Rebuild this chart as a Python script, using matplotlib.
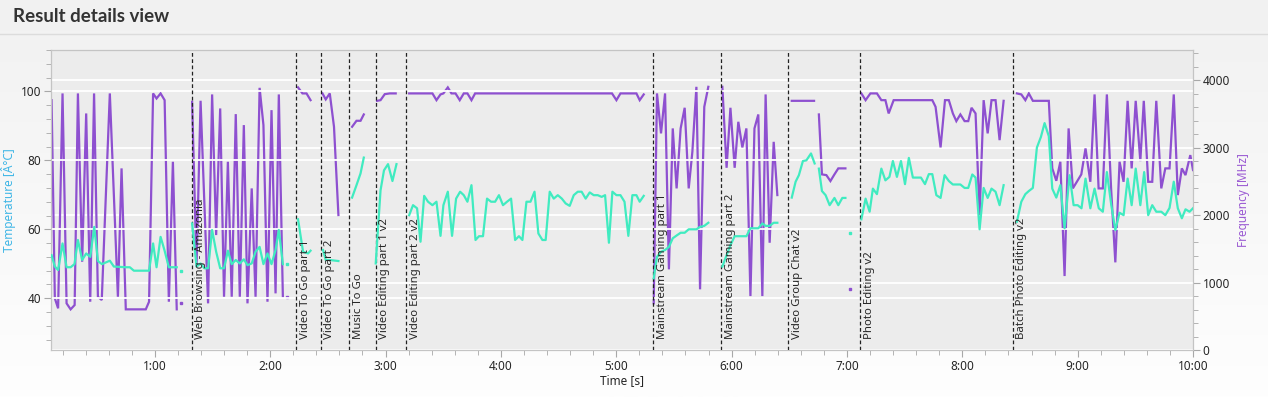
import matplotlib
matplotlib.use('Agg')
import matplotlib.pyplot as plt
import matplotlib.ticker as mticker
import matplotlib.transforms as mtransforms
from matplotlib.lines import Line2D
import numpy as np

nan = np.nan

# ---- section markers (seconds) ----
section_start = [79.1, 133.6, 146.2, 161.2, 174.8, 190.9, 319.2, 354.6, 389.5, 426.9, 506.3]
section_name = ['Web Browsing - Amazonia', 'Video To Go part 1', 'Video To Go part 2',
                'Music To Go', 'Video Editing part 1 v2', 'Video Editing part 2 v2',
                'Mainstream Gaming part 1', 'Mainstream Gaming part 2',
                'Video Group Chat v2', 'Photo Editing v2', 'Batch Photo Editing v2']

# ---- temperature series (°C), nan = break ----
temp_time = [6.3, 8.0, 9.7, 12.0, 14.1, 16.2, 18.2, 20.0, 22.2, 24.3, 26.4, 28.5, 30.4, 32.5,
             36.6, 38.7, 44.9, 47.0, 49.1, 57.0, 59.1, 60.9, 63.0, 65.0, 67.3, 69.4, 71.4, nan,
             79.4, 81.7, 83.8, 85.8, 87.7, 89.8, 91.9, 94.0, 96.0, 98.0, 100.0, 102.1, 104.2,
             106.3, 108.2, 110.4, 112.4, 114.5, 116.5, 118.6, 120.7, 122.8, 124.5, 126.6, nan,
             134.5, 137.1, 139.7, 141.0, nan,
             147.5, 148.9, 151.0, 155.5, nan,
             162.6, 164.9, 167.0, 168.7, nan,
             174.9, 177.4, 179.2, 181.3, 183.6, 185.7, nan,
             192.3, 194.3, 196.4, 198.2, 200.1, 202.1, 204.4, 206.5, 208.6, 210.1, 212.4, 214.6,
             216.7, 218.8, 220.7, 222.6, 224.7, 226.8, 228.6, 230.7, 232.8, 234.9, 237.0, 239.0,
             241.1, 243.2, 245.3, 247.4, 249.4, 251.2, 253.3, 255.4, 257.5, 259.5, 261.6, 263.3,
             265.4, 267.5, 269.6, 271.7, 273.7, 275.8, 277.9, 280.0, 282.0, 284.1, 286.2, 288.3,
             290.4, 292.4, 294.2, 296.2, 298.0, 300.1, 302.2, 304.3, 306.3, 308.4, 310.5, 312.2,
             314.3, nan,
             319.5, 321.2, 323.3, 325.4, 327.4, 329.4, 331.4, 333.5, 335.6, 337.7, 339.6, 341.7,
             343.6, 345.8, 347.9, nan,
             355.2, 357.4, 359.4, 361.6, 363.5, 365.6, 367.7, 369.8, 371.9, 373.9, 376.0, 377.7,
             379.8, 381.9, 383.8, nan,
             391.3, 393.3, 395.0, 397.1, 398.9, 401.3, 403.2, nan,
             405.4, 407.0, 408.9, 411.0, 413.5, 415.5, 417.6, 419.2, nan,
             427.5, 429.7, 431.8, 433.5, 435.6, 437.9, 440.0, 442.1, 443.9, 446.0, 448.1, 450.2,
             452.2, 454.3, 456.4, 458.5, 460.6, 462.6, 464.4, 466.5, 468.7, 470.8, 473.0, 475.1,
             479.0, 481.2, 483.1, 485.2, 486.9, 489.0, 491.1, 493.2, 495.2, 497.3, 499.4, 501.5, nan,
             508.4, 510.7, 512.8, 514.6, 516.7, 518.8, 520.9, 522.8, 525.0, 526.8, 528.9, 531.0,
             533.2, 535.8, 537.9, 540.0, 542.0, 544.1, 546.6, 548.8, 551.0, 553.1, 555.2, 557.5,
             559.6, 561.8, 563.9, 566.0, 568.1, 570.2, 572.6, 574.6, 576.7, 578.8, 580.9, 583.5,
             585.6, 587.8, 590.0, 592.1, 594.2, 596.1, 598.2, 600.0]
temp_c = [52.5, 49.2, 48.2, 55.9, 49.0, 49.0, 49.9, 56.9, 51.1, 53.0, 52.0, 60.7, 50.8, 49.9,
          50.9, 49.2, 49.0, 49.0, 48.0, 48.0, 55.9, 49.0, 57.8, 54.0, 49.0, 49.0, 49.0, nan,
          61.7, 49.2, 50.1, 48.7, 48.7, 59.8, 53.5, 48.7, 48.7, 53.8, 49.9, 51.1, 50.1,
          51.3, 49.6, 50.1, 53.5, 54.9, 49.9, 53.0, 49.9, 54.0, 59.8, 49.9, nan,
          62.9, 53.5, 53.0, 53.8, nan,
          54.0, 51.1, 51.1, 50.8, nan,
          69.2, 72.8, 76.2, 80.8, nan,
          50.1, 71.3, 77.1, 78.9, 74.0, 78.9, nan,
          64.1, 67.0, 66.1, 56.4, 69.7, 68.0, 67.0, 68.0, 58.1, 67.0, 70.9, 58.1,
          68.9, 70.9, 69.9, 68.0, 72.8, 56.9, 58.0, 58.0, 68.9, 68.0, 68.0, 69.9,
          67.0, 68.0, 68.9, 56.9, 58.0, 56.9, 68.0, 68.0, 70.9, 58.8, 56.9, 56.9,
          70.9, 68.9, 69.9, 68.9, 67.5, 66.8, 69.9, 70.9, 70.9, 68.9, 70.7, 69.9,
          69.9, 69.4, 69.9, 56.1, 70.9, 69.9, 69.9, 68.0, 58.1, 69.9, 69.9, 68.0,
          69.7, nan,
          45.8, 52.0, 53.5, 54.0, 54.9, 57.4, 58.2, 59.0, 59.0, 60.0, 60.0, 60.0,
          60.7, 61.0, 61.9, nan,
          49.2, 52.5, 55.4, 58.0, 58.0, 58.0, 58.0, 60.3, 60.3, 60.3, 61.7, 61.0,
          61.0, 61.9, 61.9, nan,
          69.2, 73.8, 75.7, 79.8, 80.0, 82.0, 79.1, nan,
          77.6, 71.1, 69.9, 67.0, 69.1, 67.0, 69.1, 69.1, nan,
          62.9, 68.9, 65.1, 71.8, 70.2, 77.6, 74.2, 75.2, 79.8, 75.2, 79.8, 73.1,
          80.7, 75.0, 75.0, 75.0, 73.1, 76.0, 76.0, 69.9, 69.1, 75.7, 74.0, 73.0,
          73.0, 72.0, 72.0, 75.9, 75.0, 60.0, 72.0, 69.1, 71.8, 70.9, 67.0, 72.8, nan,
          62.2, 68.0, 70.2, 71.1, 72.0, 83.7, 86.8, 90.8, 87.0, 71.8, 69.2, 72.8,
          60.3, 75.7, 67.0, 67.0, 66.1, 74.7, 66.1, 71.8, 66.1, 65.1, 76.6, 67.0,
          59.8, 64.8, 64.1, 74.7, 67.0, 77.6, 67.0, 76.6, 64.1, 67.0, 65.1, 65.1,
          64.1, 66.2, 73.8, 66.1, 63.2, 65.8, 65.1, 66.1]

# ---- frequency series (MHz), nan = break ----
freq_time = [6.3, 8.0, 9.7, 12.0, 14.1, 16.2, 18.3, 20.0, 22.2, 24.3, 26.4, 28.4, 30.4, 32.4,
             36.6, 40.8, 42.7, 44.9, 55.3, 57.0, 59.1, 60.9, 63.0, 65.1, 67.3, 69.4, 71.4, nan,
             79.4, 81.7, 83.8, 87.7, 89.8, 91.9, 94.0, 96.0, 98.0, 100.0, 102.1, 104.2, 106.3,
             108.2, 110.4, 112.4, 114.5, 116.5, 118.6, 120.7, 122.8, 124.5, 126.6, nan,
             134.5, 136.8, 138.9, 141.0, nan,
             147.2, 148.9, 151.0, 153.2, 155.5, nan,
             162.6, 164.9, 167.0, 168.7, nan,
             175.6, 177.4, 179.6, 182.2, 185.3, nan,
             192.3, 204.4, 206.5, 208.6, 210.1, 212.4, 214.3, 216.4, 218.6, 220.7, 222.6, 224.7,
             226.6, 297.8, 300.1, 302.2, 310.5, 312.2, 314.3, nan,
             319.5, 321.2, 323.3, 325.4, 327.4, 329.4, 331.4, 333.5, 335.6, 337.7, 339.6, 341.7,
             343.6, 345.8, 347.9, nan,
             355.2, 357.4, 359.4, 361.6, 363.5, 365.6, 367.7, 369.8, 371.9, 373.9, 376.0, 377.7,
             379.8, 381.9, 383.8, nan,
             391.3, 402.9, nan,
             405.4, 407.0, 409.3, 411.4, 413.5, 415.5, 419.2, nan,
             427.5, 429.7, 432.2, 435.6, 437.9, 440.0, 441.7, 444.3, 464.4, 466.1, 468.7, 471.0,
             473.0, 475.1, 476.9, 479.0, 481.2, 483.1, 484.8, 486.9, 489.0, 491.1, 493.2, 495.2,
             497.3, 499.4, 501.5, nan,
             508.4, 510.7, 512.8, 514.6, 516.7, 525.0, 526.8, 528.9, 531.0, 533.2, 535.3, 537.5,
             539.6, 541.9, 544.1, 546.6, 548.8, 550.9, 553.1, 555.2, 557.4, 559.6, 561.8, 563.9,
             566.0, 568.1, 570.2, 572.6, 574.4, 576.7, 578.8, 580.9, 583.5, 585.6, 587.8, 590.0,
             592.1, 594.2, 596.1, 598.6, 600.0]
freq_mhz = [3706, 766, 618, 3806, 692, 603, 667, 3806, 1309, 3509, 716, 3806, 790, 741,
            3806, 790, 2694, 603, 603, 716, 3806, 3731, 3806, 3706, 716, 2792, 603, nan,
            3682, 1235, 3697, 692, 3791, 1705, 3583, 790, 2792, 790, 3499, 790, 3336,
            692, 2397, 790, 3889, 3336, 716, 3558, 840, 3791, 790, nan,
            3895, 3806, 3806, 3706, nan,
            3806, 3717, 3806, 3311, 2002, nan,
            3311, 3400, 3400, 3494, nan,
            3696, 3706, 3795, 3806, 3806, nan,
            3806, 3806, 3706, 3791, 3806, 3895, 3806, 3806, 3706, 3806, 3806, 3706,
            3806, 3806, 3706, 3806, 3806, 3706, 3791, nan,
            692, 3806, 3213, 3806, 1196, 3287, 2397, 3287, 3593, 2397, 2940, 3904,
            900, 3607, 3904, nan,
            3904, 2703, 3593, 2703, 3385, 3005, 3287, 800, 3287, 3494, 800, 3791,
            1591, 3088, 2298, nan,
            3696, 3696, nan,
            3494, 2605, 2594, 2506, 2605, 2694, 2694, nan,
            3806, 3706, 3806, 3806, 3706, 3706, 3509, 3706, 3706, 3607, 3005, 3706,
            3706, 3509, 3395, 3494, 3395, 3395, 3593, 3509, 2002, 3706, 3213, 3706,
            3706, 3113, 3696, nan,
            3806, 3791, 3706, 3806, 3696, 3696, 2694, 2510, 2792, 1097, 3287, 2397,
            2495, 2605, 2990, 2495, 3791, 2397, 2397, 3791, 2397, 1300, 2792, 2495,
            3696, 2694, 3696, 2802, 3696, 2495, 2495, 3696, 2397, 2694, 2694, 3791,
            2298, 2694, 2594, 2891, 2669]

# isolated single samples
dot_time = [73.4, 128.6, 421.4]
dot_temp = [48.0, 49.9, 59.0]
dot_freq = [692, 790, 900]

TEMP_COLOR = '#40ebc0'
FREQ_COLOR = '#8e50d0'
TEXT = '#262626'
TICK = '#a8a8a8'

plt.rcParams['font.family'] = ['Noto Sans', 'DejaVu Sans']

W, H = 1268, 397
fig = plt.figure(figsize=(W / 100, H / 100), dpi=100)

# background gradient + header line
bg = fig.add_axes([0, 0, 1, 1], zorder=-10)
grad = np.linspace(0, 1, 256).reshape(-1, 1)
bg.imshow(grad, aspect='auto', cmap=matplotlib.colors.LinearSegmentedColormap.from_list(
    'bg', ['#f1f1f1', '#fefefe']), extent=[0, 1, 0, 1], origin='upper')
bg.set_xlim(0, 1)
bg.set_ylim(0, 1)
bg.axis('off')
fig.add_artist(Line2D([0, 1], [1 - 33.5 / H] * 2, color='#dcdcdc', lw=1))
fig.text(13 / W, 1 - 16 / H, 'Result details view', fontsize=13.5, fontweight='bold',
         family='Lato', color='#333333', va='center', ha='left')

left, right, top, bottom = 51, 1193, 50, 350
ax = fig.add_axes([left / W, 1 - bottom / H, (right - left) / W, (bottom - top) / H])
ax2 = ax.twinx()
ax2.set_zorder(0)
ax.set_zorder(1)
ax.patch.set_visible(False)
ax2.patch.set_visible(True)
ax2.patch.set_facecolor('#ececec')

ax.set_xlim(6, 600)
ax.set_ylim(25, 112)
ax2.set_ylim(0, 4450)

# grid lines for both axes (white)
ax.yaxis.set_major_locator(mticker.MultipleLocator(20))
ax.yaxis.set_minor_locator(mticker.MultipleLocator(4))
ax2.yaxis.set_major_locator(mticker.MultipleLocator(1000))
ax2.yaxis.set_minor_locator(mticker.MultipleLocator(200))
ax.grid(axis='y', which='major', color='white', lw=1.3, zorder=0)
ax2.grid(axis='y', which='major', color='white', lw=1.3)
ax.set_axisbelow(True)

ax.xaxis.set_major_locator(mticker.MultipleLocator(60))
ax.xaxis.set_minor_locator(mticker.MultipleLocator(12))
ax.xaxis.set_major_formatter(mticker.FuncFormatter(
    lambda v, p: f'{int(round(v)) // 60}:{int(round(v)) % 60:02d}'))

ax2.plot(freq_time, freq_mhz, color=FREQ_COLOR, lw=1.6, solid_joinstyle='miter')
ax2.plot(dot_time, dot_freq, ls='none', marker='s', ms=2, color=FREQ_COLOR)
ax.plot(temp_time, temp_c, color=TEMP_COLOR, lw=1.6, zorder=3)
ax.plot(dot_time, dot_temp, ls='none', marker='s', ms=2, color=TEMP_COLOR, zorder=3)

trans = mtransforms.blended_transform_factory(ax.transData, ax.transAxes)
for t, name in zip(section_start, section_name):
    ax.axvline(t, color='#222222', lw=0.9, ls=(0, (3, 2)), zorder=2)
    ax.annotate(name, xy=(t, 0), xycoords=trans, xytext=(2.5, 8), textcoords='offset points',
                rotation=90, ha='left', va='bottom', fontsize=8.2, color=TEXT, zorder=4)

for a in (ax, ax2):
    for s in a.spines.values():
        s.set_color('#c4c4c4')
    a.tick_params(which='major', length=5, color=TICK, labelsize=8.5, labelcolor=TEXT, pad=2)
    a.tick_params(which='minor', length=3.5, color=TICK)

ax.set_xlabel('Time [s]', fontsize=8.5, color=TEXT, labelpad=1)
ax.set_ylabel('Temperature [Â°C]', fontsize=8.5, color='#3fb6e6')
ax2.set_ylabel('Frequency [MHz]', fontsize=8.5, color='#9b5bd3')
ax.yaxis.set_label_coords((16 - left) / (right - left), 0.5)
ax2.yaxis.set_label_coords((1237 - left) / (right - left), 0.5)

fig.savefig('out.png', dpi=100)
